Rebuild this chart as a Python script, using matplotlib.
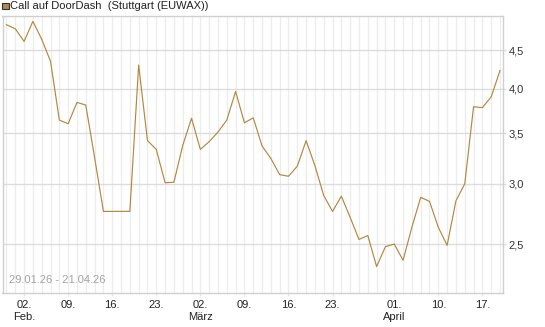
import matplotlib
matplotlib.use('Agg')
import matplotlib.pyplot as plt
from matplotlib.patches import Rectangle
from matplotlib.ticker import FixedLocator, NullLocator, FixedFormatter
import pandas as pd

plt.rcParams['font.family'] = ['Liberation Sans', 'DejaVu Sans']

# ---- data ----
holidays = ['2026-04-03', '2026-04-06']
dates = [d for d in pd.bdate_range('2026-01-29', '2026-04-21')
         if d.strftime('%Y-%m-%d') not in holidays]

values = [4.86, 4.80, 4.62, 4.91, 4.65, 4.35, 3.64, 3.60, 3.84, 3.81,
          3.25, 2.76, 2.76, 2.76, 2.76, 4.30, 3.42, 3.33, 3.01, 3.015,
          3.37, 3.66, 3.33, 3.41, 3.51, 3.64, 3.97, 3.61, 3.665, 3.365,
          3.24, 3.085, 3.07, 3.165, 3.42, 3.17, 2.895, 2.76, 2.89, 2.71,
          2.535, 2.565, 2.335, 2.48, 2.50, 2.38, 2.63, 2.88, 2.845, 2.63,
          2.49, 2.85, 3.00, 3.79, 3.78, 3.905, 4.23]

tick_dates = ['2026-02-02', '2026-02-09', '2026-02-16', '2026-02-23',
              '2026-03-02', '2026-03-09', '2026-03-16', '2026-03-23',
              '2026-04-01', '2026-04-10', '2026-04-17']
tick_labels = ['02.\nFeb.', '09.', '16.', '23.', '02.\nMärz', '09.', '16.', '23.',
               '01.\nApril', '10.', '17.']

y_ticks = [2.5, 3.0, 3.5, 4.0, 4.5]
y_labels = ['2,5', '3,0', '3,5', '4,0', '4,5']

title = 'Call auf DoorDash  (Stuttgart (EUWAX))'
range_text = '29.01.26 - 21.04.26'

# ---- figure ----
W, H = 545, 327
fig = plt.figure(figsize=(W / 100, H / 100), dpi=100)
ax = fig.add_axes([2.5 / W, 1 - 293 / H, (503 - 2.5) / W, (293 - 16) / H])

x = list(range(len(dates)))
date_strs = [d.strftime('%Y-%m-%d') for d in dates]
tick_pos = [date_strs.index(t) for t in tick_dates]

ax.set_yscale('log')
ax.set_xlim(-0.45, len(dates) - 1 + 0.34)
ax.set_ylim(2.155, 4.99)

# vertical grid: one per trading day
for xi in x:
    ax.axvline(xi, color='#ececec', lw=0.9, zorder=0)
for yv in y_ticks:
    ax.axhline(yv, color='#dcdcdc', lw=1.0, zorder=0.5)

ax.plot(x, values, color='#B5873F', lw=0.85, zorder=3)

ax.yaxis.tick_right()
ax.yaxis.set_major_locator(FixedLocator(y_ticks))
ax.yaxis.set_major_formatter(FixedFormatter(y_labels))
ax.yaxis.set_minor_locator(NullLocator())
ax.xaxis.set_major_locator(FixedLocator(tick_pos))
ax.xaxis.set_major_formatter(FixedFormatter(tick_labels))
ax.xaxis.set_minor_locator(NullLocator())

ax.tick_params(axis='y', length=2, width=1, color='#dcdcdc', pad=2,
               labelsize=8, labelcolor='#333333')
ax.tick_params(axis='x', length=2, width=1, color='#e6e6e6', pad=3,
               labelsize=8, labelcolor='#222222')
for lab in ax.get_xticklabels():
    lab.set_linespacing(1.3)

for s in ax.spines.values():
    s.set_color('#cfcfcf')
    s.set_linewidth(1.0)

ax.text(0.012, 0.035, range_text, transform=ax.transAxes, fontsize=8,
        color='#a3a3a3', ha='left', va='baseline')

# title with legend square
fig.patches.append(Rectangle((2 / W, 1 - 9 / H), 6.5 / W, 6.5 / H,
                             transform=fig.transFigure, facecolor='#B08850',
                             edgecolor='#333333', lw=0.8))
fig.text(10.5 / W, 1 - 6 / H, title, fontsize=8, color='#222222',
         ha='left', va='center')

fig.savefig('out.png', dpi=100)
